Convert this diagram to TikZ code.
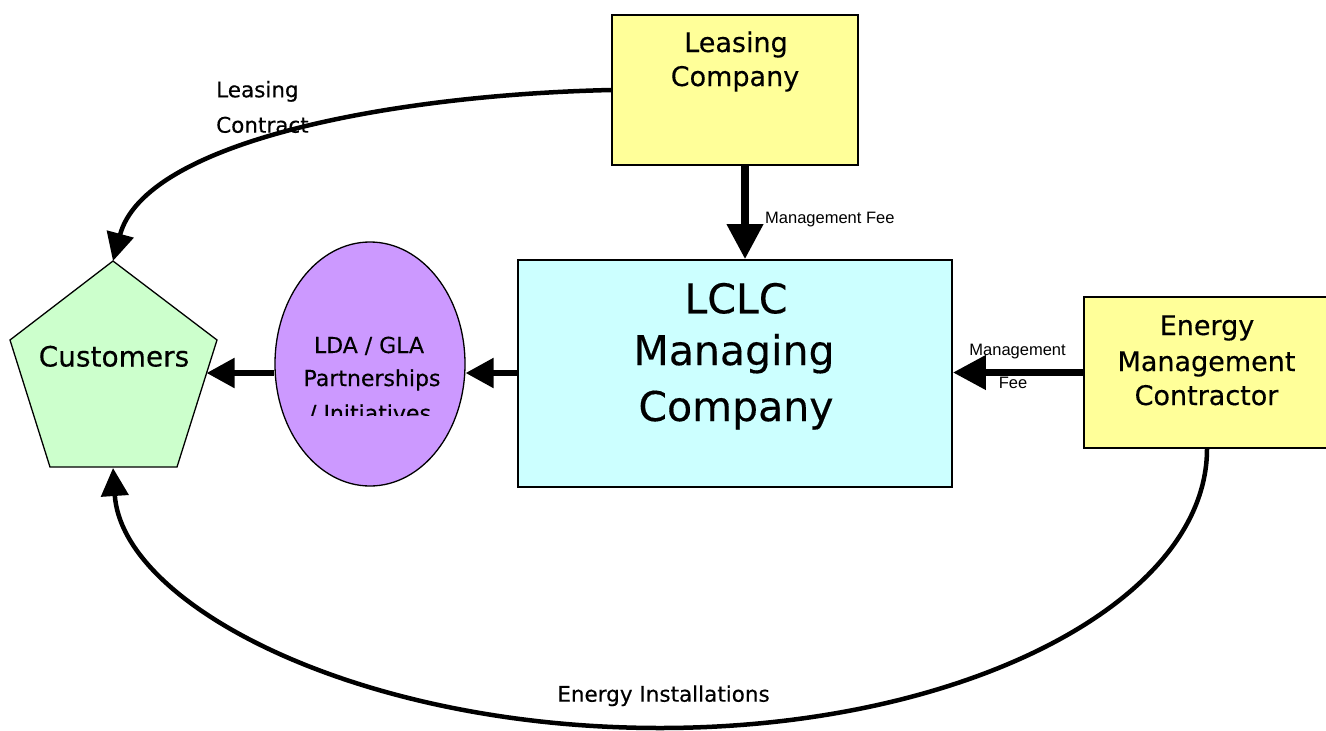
\documentclass[tikz,border=0pt]{standalone}
\usepackage{fontspec}
\setmainfont{DejaVu Sans}[FakeBold=0.35]
\newfontfamily\labfont{Liberation Sans}
\usetikzlibrary{arrows.meta,shapes.geometric}
\definecolor{lyellow}{HTML}{FFFF99}
\definecolor{lcyan}{HTML}{CCFFFF}
\definecolor{lpurple}{HTML}{CC99FF}
\definecolor{lgreen}{HTML}{CCFFCC}
\newcommand\fsz[1]{\fontsize{#1}{#1}\selectfont}
\tikzset{
  box/.style={draw, line width=1.8pt, inner sep=0pt},
  txt/.style={inner sep=0pt, anchor=base},
  smalllab/.style={inner sep=0pt, anchor=base, font=\labfont\fsz{16.5}},
  bigflow/.style={line width=7.3pt, -{Triangle[length=35pt,width=35pt]}},
  midflow/.style={line width=5.5pt, -{Triangle[length=28pt,width=29pt]}},
  curveflow/.style={line width=4.5pt, -{Triangle[length=28pt,width=27pt]}},
}
\begin{document}
\begin{tikzpicture}[x=1pt,y=-1pt]
\useasboundingbox (0,0) rectangle (1326,731);

% boxes
\node[box, fill=lyellow, minimum width=246pt, minimum height=150pt] (lease) at (735,90) {};
\node[box, fill=lcyan, minimum width=434pt, minimum height=227pt] (lclc) at (735,373.5) {};
\node[box, fill=lyellow, minimum width=246pt, minimum height=151pt] (emc) at (1207,372.5) {};
\node[draw, ellipse, fill=lpurple, line width=1.3pt, inner sep=0pt,
      minimum width=190pt, minimum height=244pt] (ell) at (370,364) {};
\draw[line width=1.3pt, fill=lgreen]
  (113,261) coordinate (custT) -- (217,340) -- (177,467) -- (50,467) -- (10,340) -- cycle;
\coordinate (custB) at (113,468);
\coordinate (custR) at (206.6,373);

% box texts
\node[txt, font=\fsz{27}] (lease1) at (736,52) {Leasing};
\node[txt, font=\fsz{27}] (lease2) at (735,86) {Company};

\node[txt, font=\fsz{41}] (lclc1) at (736,313.3) {LCLC};
\node[txt, font=\fsz{41}] (lclc2) at (734,365) {Managing};
\node[txt, font=\fsz{41}] (lclc3) at (736,421) {Company};

\node[txt, font=\fsz{27}] (emc1) at (1207,335) {Energy};
\node[txt, font=\fsz{27}] (emc2) at (1206.5,371) {Management};
\node[txt, font=\fsz{27}] (emc3) at (1206.5,405) {Contractor};

\node[txt, font=\fsz{28}] (cust) at (114,366.5) {Customers};

\node[txt, font=\fsz{22}] (ell1) at (369,353) {LDA / GLA};
\node[txt, font=\fsz{22}] (ell2) at (372,386) {Partnerships};
\begin{scope}
  \clip (270,390) rectangle (470,415.5);
  \node[txt, font=\fsz{22}] (ell3) at (370,421) {/ Initiatives};
\end{scope}

% straight connectors
\draw[bigflow] ([xshift=10pt]lease.south) -- ([xshift=10pt]lease.south |- lclc.north);
\draw[bigflow, -{Triangle[length=33pt,width=33pt]}] (emc.west) -- (lclc.east |- emc.west);
\draw[midflow] (lclc.west |- custR) -- (ell.east |- custR);
\draw[midflow] (ell.west |- custR) -- (custR);

% curved connectors
\draw[curveflow] (lease.west) .. controls (390,95) and (145,142) .. (custT);
\draw[curveflow] (emc.south) .. controls (1207,602.6) and (962.1,728) .. (660,728)
  .. controls (357.9,728) and (122,605) .. (custB);

% labels
\node[smalllab, anchor=base west] (mf1) at (765,223) {Management Fee};
\node[smalllab] (mf2) at (1017.6,355) {Management};
\node[smalllab] (mf3) at (1013,388) {Fee};
\node[txt, anchor=base west, font=\fsz{21.5}] (lc1) at (216,97.3) {Leasing};
\node[txt, anchor=base west, font=\fsz{21.5}] (lc2) at (216,132.7) {Contract};
\node[txt, font=\fsz{21.5}] (ei) at (663.5,701.7) {Energy Installations};
\end{tikzpicture}
\end{document}
